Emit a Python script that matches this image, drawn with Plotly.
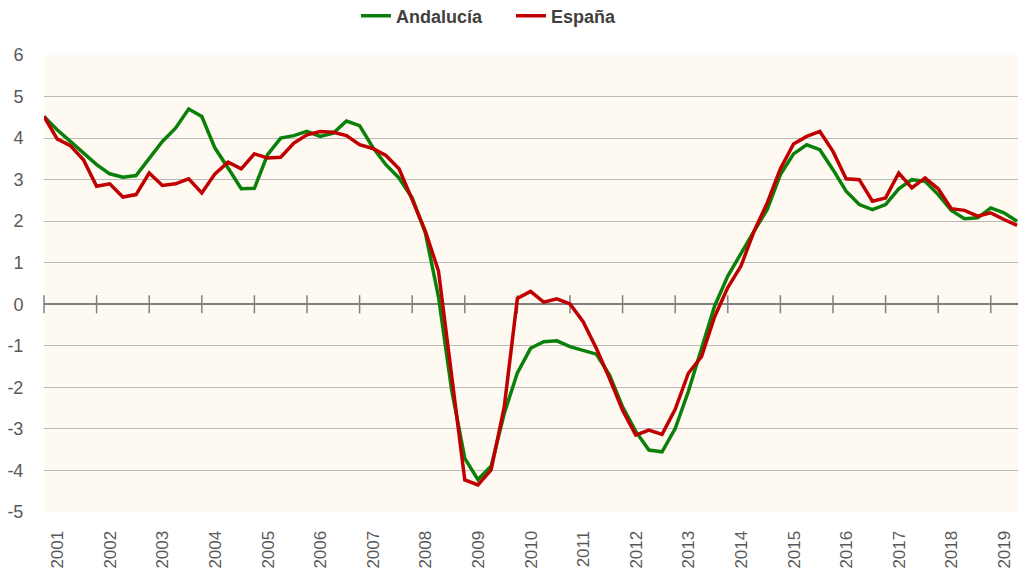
import plotly.graph_objects as go

start_year = 2001
years = list(range(2001, 2020))
year_labels = [str(y) for y in years]
y_ticks = list(range(-5, 7))
y_tick_labels = [str(v) for v in y_ticks]

andalucia = [4.52, 4.20, 3.92, 3.64, 3.36, 3.14, 3.06, 3.10,
             3.52, 3.92, 4.24, 4.70, 4.52, 3.76, 3.28, 2.78,
             2.79, 3.60, 4.00, 4.06, 4.16, 4.04, 4.12, 4.41,
             4.30, 3.78, 3.36, 3.04, 2.56, 1.72, 0.18, -2.06,
             -3.71, -4.22, -3.90, -2.63, -1.65, -1.06, -0.90, -0.88,
             -1.02, -1.12, -1.20, -1.70, -2.47, -3.06, -3.51, -3.55,
             -2.99, -2.10, -1.10, -0.04, 0.68, 1.24, 1.76, 2.28,
             3.12, 3.62, 3.84, 3.72, 3.24, 2.72, 2.40, 2.28,
             2.40, 2.78, 3.00, 2.96, 2.64, 2.26, 2.06, 2.08,
             2.32, 2.20, 2.00]

espana = [4.52, 3.98, 3.82, 3.48, 2.84, 2.90, 2.58, 2.64,
          3.16, 2.86, 2.90, 3.02, 2.68, 3.14, 3.42, 3.26,
          3.62, 3.52, 3.54, 3.88, 4.08, 4.16, 4.14, 4.06,
          3.84, 3.75, 3.58, 3.26, 2.52, 1.76, 0.80, -1.80,
          -4.23, -4.35, -3.99, -2.47, 0.14, 0.31, 0.05, 0.13,
          0.01, -0.42, -1.06, -1.78, -2.55, -3.15, -3.03, -3.13,
          -2.53, -1.66, -1.26, -0.30, 0.40, 0.92, 1.76, 2.44,
          3.26, 3.86, 4.04, 4.16, 3.68, 3.02, 3.00, 2.48,
          2.56, 3.16, 2.80, 3.04, 2.78, 2.30, 2.26, 2.12,
          2.20, 2.04, 1.90]

x = [start_year + i / 4 for i in range(len(andalucia))]

fig = go.Figure()
fig.add_trace(go.Scatter(x=years, y=[0] * len(years), mode="markers",
                         marker=dict(symbol="line-ns", size=13,
                                     line=dict(color="#808080", width=1.5)),
                         showlegend=False, hoverinfo="skip", cliponaxis=False))
fig.add_trace(go.Scatter(x=x, y=andalucia, mode="lines", name="Andalucía",
                         line=dict(color="#0A800A", width=3.5)))
fig.add_trace(go.Scatter(x=x, y=espana, mode="lines", name="España",
                         line=dict(color="#C00000", width=3.5)))

fig.update_layout(
    width=1018, height=571,
    margin=dict(l=44, r=0, t=55, b=59, autoexpand=False),
    paper_bgcolor="white",
    plot_bgcolor="#FEFAF1",
    font=dict(family="Liberation Sans, Arial, sans-serif", color="#595959"),
    legend=dict(orientation="h", x=0.3203, xanchor="left", y=1.0853, yanchor="middle",
                font=dict(size=18, color="#404040", family="Liberation Sans, Arial, sans-serif", weight="bold"),
                itemwidth=30, entrywidth=110, entrywidthmode="pixels",
                bgcolor="rgba(0,0,0,0)"),
    xaxis=dict(range=[start_year, start_year + 74.07 / 4],
               tickmode="array", automargin=False,
               tickvals=[y + 0.26 for y in years], ticktext=year_labels,
               tickangle=-90, tickfont=dict(size=17, color="#595959"),
               showgrid=False, zeroline=False,
               showline=False, ticks="outside", ticklen=11,
               tickcolor="rgba(0,0,0,0)"),
    yaxis=dict(range=[-5, 6], tickmode="array", tickvals=y_ticks,
               ticktext=y_tick_labels, automargin=False,
               tickfont=dict(size=18, color="#595959"),
               showgrid=True, gridcolor="#BABABA", gridwidth=1,
               zeroline=True, zerolinecolor="#808080", zerolinewidth=2,
               ticks="outside", ticklen=16, tickcolor="rgba(0,0,0,0)"),
)

fig.write_html("out.html", config={"displayModeBar": False},
               post_script="document.body.style.margin='0';document.body.style.overflow='hidden';")
